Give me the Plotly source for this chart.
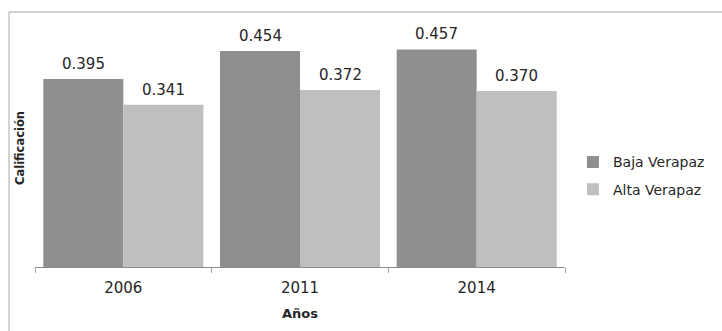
import plotly.graph_objects as go

# Chart data
years = ["2006", "2011", "2014"]
baja_verapaz = [0.395, 0.454, 0.457]
alta_verapaz = [0.341, 0.372, 0.370]
series_names = ["Baja Verapaz", "Alta Verapaz"]
series_colors = ["#8f8f8f", "#bfbfbf"]

FONT = "DejaVu Sans"
TEXT_COLOR = "#262626"

fig = go.Figure()
for name, vals, color in zip(series_names, [baja_verapaz, alta_verapaz], series_colors):
    fig.add_trace(go.Bar(
        x=years, y=vals, name=name, legendgroup=name,
        marker=dict(color=color, line=dict(width=0)),
    ))

# Value labels above each bar (category axis positions are indices)
for shift, vals in zip([-40, 40], [baja_verapaz, alta_verapaz]):
    for idx, v in enumerate(vals):
        fig.add_annotation(
            x=idx, y=v, xref="x", yref="y", text=f"{v:.3f}",
            showarrow=False, xshift=shift, yshift=15, yanchor="middle",
            font=dict(family=FONT, size=15, color=TEXT_COLOR),
        )

# Chart frame
fig.add_shape(type="rect", xref="paper", yref="paper",
              x0=-0.049, x1=1.5, y0=-0.5, y1=1.0714,
              line=dict(color="#a6a6a6", width=1), fillcolor="rgba(0,0,0,0)",
              layer="below")

fig.update_layout(
    width=722, height=331,
    margin=dict(l=35, r=157, t=29, b=64),
    paper_bgcolor="white", plot_bgcolor="white",
    barmode="group", bargap=0.094, bargroupgap=0,
    font=dict(family=FONT, color=TEXT_COLOR),
    showlegend=True,
    legend=dict(
        x=1.015, y=0.383, xanchor="left", yanchor="middle",
        font=dict(family=FONT, size=14, color=TEXT_COLOR),
        tracegroupgap=6, bgcolor="rgba(0,0,0,0)",
    ),
    xaxis=dict(
        type="category", range=[-0.5, len(years) - 0.5],
        showline=True, linecolor="#8c8c8c", linewidth=1,
        ticks="outside", tickson="boundaries", ticklen=5, tickcolor="#a0a0a0",
        ticklabelstandoff=7,
        tickfont=dict(family=FONT, size=15, color=TEXT_COLOR),
        title=dict(text="<b>Años</b>", font=dict(family=FONT, size=13, color=TEXT_COLOR), standoff=12),
        showgrid=False,
    ),
    yaxis=dict(
        range=[0, 0.5], showticklabels=False, showgrid=False, zeroline=False,
        showline=False, ticks="",
        title=dict(text="<b>Calificación</b>", font=dict(family=FONT, size=11.5, color=TEXT_COLOR), standoff=6),
    ),
)

fig.write_html("out.html")
